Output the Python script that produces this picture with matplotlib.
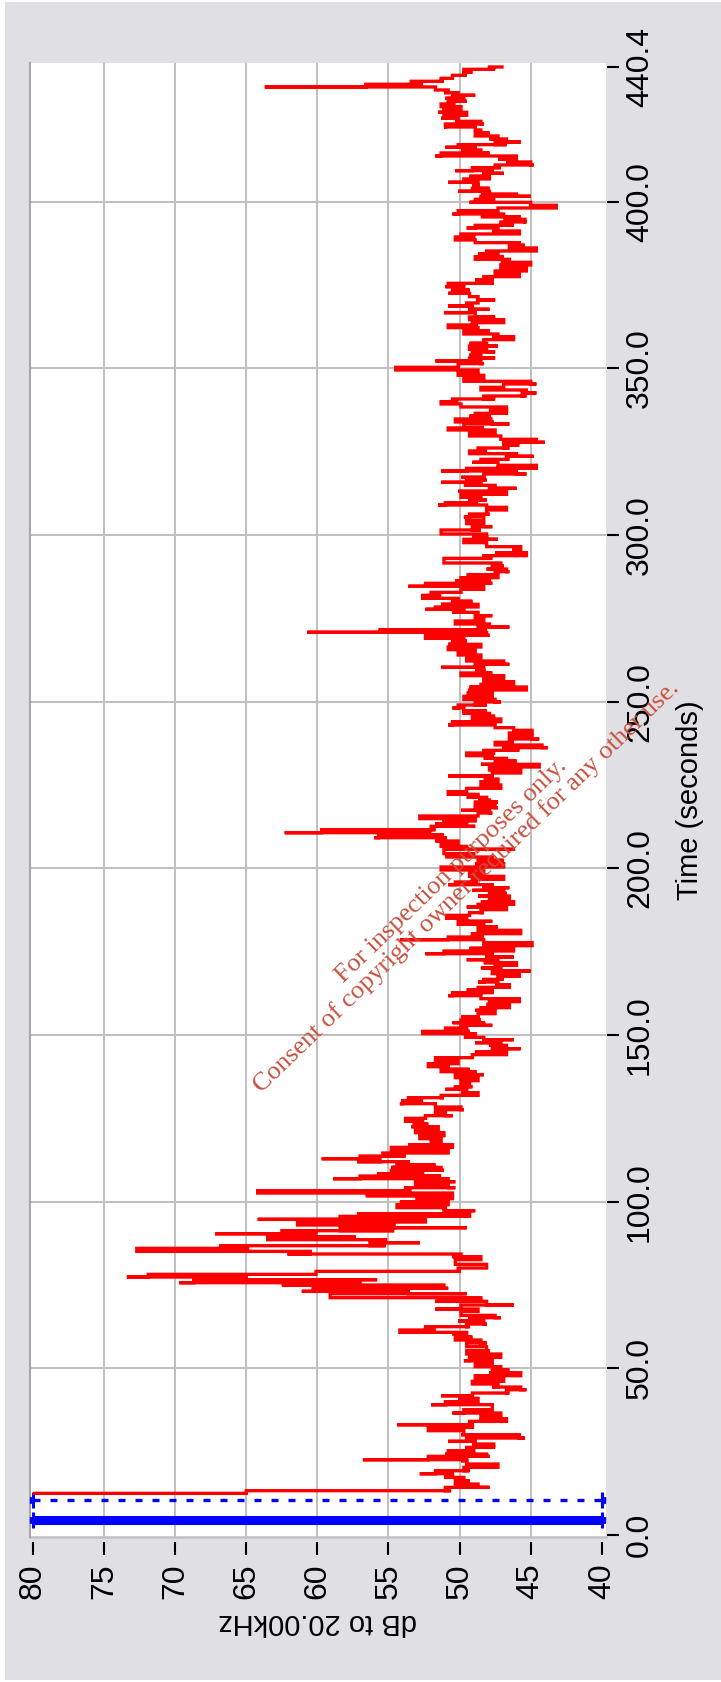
import matplotlib
matplotlib.use('Agg')
import matplotlib.pyplot as plt
from matplotlib.patches import Rectangle
from matplotlib import font_manager

# dB axis ticks and time axis ticks
db_ticks = [80, 75, 70, 65, 60, 55, 50, 45, 40]
time_ticks = [0, 50, 100, 150, 200, 250, 300, 350, 400, 440.4]
time_labels = ['0.0', '50.0', '100.0', '150.0', '200.0', '250.0', '300.0', '350.0', '400.0', '440.4']

# blue markers (cursor lines) at these times
cursor_solid_t = 4.5
cursor_dash_t = 10.5

# level trace, read per bar: time (s), upper and lower dB of each jump
bar_t = [12.5, 13.3, 14.3, 15.3, 16.3, 17.3, 18.4, 19.3, 20.3, 21.3, 22.3, 22.6, 23.6, 24.3, 25.3, 26.3,
         27.3, 28.1, 29.1, 30.1, 31.3, 32.3, 33.1, 34.1, 34.9, 35.8, 36.6, 37.6, 39.1, 40.0, 41.0, 41.8,
         42.6, 43.6, 44.4, 45.3, 46.1, 46.9, 47.8, 48.7, 49.5, 50.5, 51.4, 52.3, 53.3, 54.3, 55.3, 56.5,
         57.6, 58.5, 59.4, 60.3, 60.8, 61.5, 62.5, 63.3, 64.2, 65.2, 65.9, 67.1, 67.8, 69.0, 70.1, 71.2,
         72.4, 73.1, 74.0, 75.0, 75.7, 76.6, 77.4, 78.2, 79.1, 80.1, 81.2, 82.6, 83.5, 84.3, 85.1, 86.0,
         86.8, 87.7, 88.6, 89.5, 90.4, 91.3, 92.2, 93.0, 93.9, 94.7, 95.6, 96.4, 97.3, 98.2, 99.1, 100.0,
         100.9, 101.8, 102.6, 103.3, 104.2, 105.1, 106.0, 106.9, 107.7, 108.4, 109.4, 110.3, 111.1, 112.0,
         112.9, 113.7, 114.6, 115.5, 116.3, 117.1, 118.0, 118.9, 119.8, 120.7, 121.5, 122.5, 123.3, 124.1,
         125.0, 125.8, 126.7, 127.6, 128.4, 129.4, 130.3, 131.2, 131.9, 132.7, 133.7, 134.5, 135.4, 136.3,
         137.2, 138.1, 139.0, 139.7, 140.5, 141.4, 142.3, 143.2, 144.1, 145.0,
         145.9, 146.9, 147.7, 148.6, 149.3, 150.4, 151.1, 152.0, 152.9, 153.7, 154.5, 155.4, 156.4, 157.4,
         158.2, 159.2, 160.0, 160.9, 161.8, 162.7, 163.5, 164.3, 165.1, 165.9, 166.7, 167.6, 168.4, 169.2,
         170.1, 170.9, 171.7, 172.6, 173.4, 174.4, 175.2, 176.0, 176.8, 177.7, 178.6, 179.4, 180.4, 181.4,
         182.4, 183.2, 184.1, 185.0, 185.9, 186.7, 187.6, 188.4, 189.2, 190.0, 190.9, 191.7, 192.5, 193.4,
         194.2, 195.1, 195.9, 196.7, 197.6, 198.5, 199.5, 200.4, 201.4, 202.4, 203.4, 204.4, 205.7, 206.6,
         207.4, 208.2, 209.2, 210.0, 210.7, 211.6, 212.6, 213.4, 214.2, 214.9, 215.7, 216.6, 217.4, 218.2,
         219.0, 219.9, 220.5, 221.3, 222.2, 223.0, 224.0, 225.0, 226.0, 226.8, 227.7, 228.6, 229.5, 230.4,
         231.2, 232.2, 233.0, 233.8, 234.6, 235.4, 236.2, 237.0, 237.8, 238.8, 239.7, 240.6, 241.4, 242.2,
         243.0, 244.0, 244.8, 245.6, 246.5, 247.3, 248.1, 249.0, 249.9, 250.7, 251.6, 252.6, 253.5, 254.4,
         255.2, 256.0, 257.0, 257.8, 258.6, 259.5, 260.3, 261.2, 262.2, 263.2, 264.0, 264.8, 265.6, 266.4,
         267.2, 268.2, 269.0, 269.9, 270.8, 271.6, 272.4, 273.3, 274.2, 275.0, 275.8, 276.8, 277.7, 278.4,
         279.2, 280.1, 281.0, 281.9, 282.8, 283.7, 284.6, 285.5, 286.3, 287.2, 288.1, 289.0, 289.8, 290.7,
         291.6, 293.0, 293.8, 294.7, 295.7, 296.5, 297.7, 298.7, 299.5, 300.3, 301.5, 302.5, 303.4, 304.3,
         305.4, 306.3, 307.5, 308.3, 309.0, 309.7, 310.5, 311.3, 312.2, 313.1, 314.0, 314.9, 315.8, 316.5,
         317.3, 318.3, 319.2, 320.0, 320.9, 321.8, 322.7, 323.6, 324.4, 325.2, 326.1, 327.0, 327.8, 328.7,
         329.7, 330.5, 331.5, 332.1, 333.3, 333.9, 334.8, 335.7, 336.5, 337.5, 338.4, 339.3, 340.0, 340.8,
         341.7, 342.6, 343.5, 344.3, 345.3, 346.1, 347.0, 347.9, 348.7, 349.5, 350.3, 351.4, 352.2, 353.1,
         354.0, 354.9, 355.7, 356.7, 357.5, 358.6, 359.5, 360.3, 361.3, 362.2, 363.0, 363.7, 364.6, 365.4,
         366.7, 367.7, 368.7, 369.6, 370.5, 371.5, 372.5, 373.5, 374.5, 375.5, 376.5, 377.5, 378.4, 379.2,
         380.1, 381.0, 381.8, 382.7, 383.5, 384.3, 385.2, 386.1, 386.9, 387.7, 388.5, 389.4, 390.3, 391.2,
         392.1, 392.9, 393.9, 394.7, 395.5, 396.3, 397.3, 398.1, 398.9, 399.8, 400.7, 401.6, 402.3, 403.1,
         404.0, 404.9, 405.8, 406.8, 407.6, 408.5, 409.3, 410.2, 411.0, 411.9, 412.8, 413.7, 414.6, 415.5,
         416.3, 417.1, 417.9, 418.8, 419.7, 420.6, 421.5, 422.4, 423.3, 424.1, 425.0, 425.9, 426.8, 427.7,
         428.5, 429.3, 430.1, 431.0, 431.9, 432.7, 433.5, 434.4, 435.2, 436.1, 437.0, 437.9, 438.8, 439.7,
         440.4]
bar_hi = [80.0, 65.0, 51.0, 50.1, 50.3, 51.1, 52.8, 51.7, 49.7, 49.1, 49.9, 56.8, 52.2, 51.0, 50.8, 49.5,
          49.1, 50.8, 49.5, 49.9, 52.2, 52.2, 54.4, 49.3, 48.3, 48.5, 50.5, 49.7, 52.0, 51.0, 50.1, 51.3,
          49.1, 46.7, 47.7, 48.3, 49.1, 48.7, 48.9, 47.9, 47.7, 48.9, 48.9, 49.7, 49.3, 49.1, 49.5, 49.5,
          49.5, 50.1, 50.3, 50.5, 53.0, 54.2, 52.4, 49.5, 50.1, 49.3, 49.5, 49.9, 51.7, 49.9, 51.7, 56.3,
          59.1, 61.1, 60.3, 62.5, 69.7, 68.7, 73.4, 71.9, 60.1, 50.1, 49.7, 50.3, 50.5, 62.1, 71.3, 72.7,
          66.8, 56.3, 63.5, 63.5, 67.2, 62.5, 58.4, 58.4, 61.4, 64.2, 58.4, 57.2, 51.1, 53.4, 54.4, 54.2,
          53.0, 56.6, 63.7, 64.2, 53.8, 52.8, 53.1, 58.9, 57.0, 55.8, 54.8, 54.8, 54.4, 57.2,
          59.7, 57.0, 55.4, 54.8, 54.8, 53.6, 52.0, 52.2, 52.8, 53.0, 53.1, 53.4, 53.2, 53.8,
          53.8, 52.4, 51.5, 51.7, 51.5, 54.2, 54.0, 53.6, 51.3, 49.9, 51.0, 50.3, 49.9, 49.9,
          50.1, 50.3, 51.1, 51.3, 51.7, 52.2, 51.0, 51.7, 49.1, 48.9,
          47.7, 47.9, 48.9, 47.7, 49.7, 51.1, 52.6, 51.1, 49.9, 50.5, 49.9, 49.9, 48.7, 48.9,
          48.5, 48.1, 47.9, 48.3, 50.8, 50.5, 49.5, 48.7, 47.5, 48.7, 48.3, 47.3, 47.3, 47.7,
          48.5, 47.5, 48.3, 49.5, 48.1, 52.4, 51.1, 49.3, 48.3, 48.1, 54.2, 50.8, 49.1, 48.1,
          48.7, 50.1, 50.1, 51.0, 50.9, 49.3, 48.5, 49.5, 48.7, 48.5, 47.9, 48.7, 47.9, 49.1,
          48.3, 50.8, 50.3, 49.1, 49.3, 49.3, 49.9, 51.3, 48.9, 48.7, 50.3, 50.9, 51.1, 50.9,
          51.3, 51.7, 56.0, 55.7, 62.3, 59.7, 52.0, 51.7, 51.1, 52.0, 52.8, 48.7, 49.9, 48.9,
          48.7, 48.9, 48.7, 49.5, 50.8, 50.8, 49.5, 48.5, 48.5, 48.3, 50.8, 47.7, 47.9, 47.9,
          48.5, 47.5, 48.3, 49.5, 49.5, 48.3, 46.9, 47.3, 47.5, 46.5, 46.2, 46.5, 46.2, 47.5,
          50.8, 50.5, 49.1, 49.1, 49.7, 49.7, 50.5, 50.1, 48.9, 48.9, 49.7, 49.5, 49.3, 49.3,
          48.5, 47.7, 48.3, 49.9, 49.9, 48.9, 51.3, 48.9, 49.3, 49.5, 49.7, 50.1, 50.5, 50.8,
          50.8, 50.5, 51.1, 52.4, 60.7, 55.6, 48.7, 50.3, 50.3, 48.9, 48.9, 50.5, 52.4, 51.7,
          51.3, 50.5, 52.2, 52.6, 52.0, 49.9, 53.6, 52.4, 50.3, 49.9, 49.5, 47.5, 48.1, 47.7,
          50.8, 51.1, 48.3, 47.5, 46.2, 48.1, 48.9, 49.7, 49.1, 50.5, 51.3, 49.1, 49.5, 49.5,
          49.7, 49.3, 48.1, 48.1, 51.5, 51.0, 49.3, 49.7, 49.9, 50.1, 47.9, 49.7, 51.3, 49.5,
          49.9, 48.3, 51.3, 49.5, 47.1, 49.1, 48.5, 46.7, 48.7, 49.3, 48.7, 46.9, 46.9, 47.1,
          49.1, 49.3, 49.7, 50.8, 49.7, 49.1, 50.3, 49.3, 48.9, 47.9, 49.9, 51.1, 51.3, 50.5,
          48.3, 45.6, 48.1, 48.5, 46.9, 49.1, 49.7, 49.7, 50.1, 53.1, 54.5, 50.1, 51.7, 49.3,
          49.3, 49.1, 49.3, 49.3, 49.3, 48.3, 47.7, 49.1, 49.7, 50.1, 50.8, 49.1, 48.5, 49.3,
          51.1, 49.3, 50.8, 49.5, 48.7, 49.3, 50.8, 50.5, 51.0, 50.8, 48.9, 48.3, 46.9, 47.5,
          47.1, 47.1, 47.1, 47.9, 48.9, 48.7, 48.1, 46.0, 46.5, 48.9, 49.9, 50.3, 49.9, 47.7,
          49.5, 48.9, 47.1, 46.9, 48.5, 50.5, 50.1, 47.3, 45.0, 49.3, 48.9, 48.5, 48.5, 50.1,
          49.1, 49.1, 50.8, 49.7, 49.3, 48.3, 50.3, 49.1, 47.5, 46.7, 47.3, 51.7, 51.3, 49.9,
          51.0, 50.1, 47.5, 47.9, 48.9, 48.9, 48.9, 51.1, 51.0, 50.3, 51.3, 51.1, 51.5, 51.1,
          51.0, 51.3, 50.8, 51.0, 50.5, 51.1, 51.7, 63.7, 56.6, 53.4, 51.3, 50.5, 49.7, 49.7,
          47.9]
bar_lo = [65.0, 50.6, 47.9, 48.7, 49.3, 49.7, 50.5, 49.3, 47.3, 47.3, 49.5, 49.5, 47.9, 48.1, 48.9, 47.5,
          47.6, 48.9, 45.4, 45.8, 49.7, 50.1, 49.1, 47.3, 46.7, 47.5, 47.1, 48.0, 47.7, 49.3, 48.7, 49.1,
          46.5, 45.3, 45.7, 47.3, 47.3, 46.9, 46.2, 45.7, 46.5, 47.1, 47.7, 47.7, 47.5, 47.1, 47.9, 48.1,
          48.1, 48.5, 49.1, 49.7, 49.5, 51.7, 49.3, 48.1, 48.3, 47.1, 47.5, 48.7, 48.7, 46.2, 48.1, 48.5,
          49.5, 53.6, 50.8, 51.1, 57.0, 55.8, 65.0, 60.1, 49.9, 48.5, 48.1, 49.1, 48.5, 49.9, 60.5, 64.8,
          55.2, 52.8, 55.2, 57.3, 60.1, 54.6, 49.5, 54.6, 54.6, 52.4, 52.4, 49.3, 48.9, 51.0, 50.8, 50.8,
          50.5, 50.5, 50.5, 53.4, 50.3, 50.8, 50.3, 50.8, 51.3, 52.6, 51.1, 51.3, 51.7, 53.6,
          55.6, 53.8, 51.7, 50.8, 50.8, 50.5, 51.5, 51.3, 51.1, 51.1, 51.7, 51.5, 52.2, 52.6,
          52.4, 50.5, 51.0, 49.7, 49.9, 51.7, 52.6, 51.1, 49.1, 48.7, 49.5, 49.1, 49.3, 48.9,
          48.7, 48.3, 48.9, 49.3, 50.8, 50.1, 50.1, 49.3, 47.5, 46.7,
          45.7, 46.7, 47.1, 46.2, 48.3, 48.9, 49.3, 49.5, 47.7, 48.3, 48.5, 48.7, 47.5, 47.5,
          46.6, 46.5, 46.5, 45.8, 48.5, 48.5, 47.7, 46.7, 46.5, 47.3, 46.9, 46.2, 45.8, 45.0,
          47.1, 46.0, 46.0, 47.3, 46.2, 47.7, 47.1, 46.2, 46.0, 44.9, 48.3, 48.3, 46.7, 45.7,
          47.3, 48.3, 47.7, 49.5, 49.7, 48.3, 46.9, 46.7, 46.2, 46.2, 46.5, 46.5, 46.7, 46.9,
          46.5, 47.7, 48.7, 47.1, 46.9, 48.3, 48.3, 47.7, 46.9, 46.9, 47.7, 48.9, 46.1, 49.5,
          50.1, 50.1, 51.0, 51.1, 52.1, 51.7, 48.9, 49.5, 49.9, 48.9, 50.1, 47.7, 47.9, 47.3,
          47.5, 47.3, 47.9, 48.1, 48.7, 49.5, 47.7, 47.1, 47.3, 47.3, 47.7, 46.5, 45.7, 45.3,
          44.4, 46.0, 46.7, 47.7, 47.5, 45.8, 43.8, 44.2, 46.2, 44.4, 44.9, 44.9, 44.9, 46.2,
          47.5, 47.5, 47.1, 47.5, 47.9, 48.1, 49.7, 48.1, 47.1, 47.5, 47.7, 47.7, 45.4, 45.3,
          46.2, 46.2, 46.9, 46.9, 47.7, 48.3, 48.3, 46.5, 46.9, 48.5, 48.5, 48.9, 48.9, 48.9,
          48.5, 49.5, 49.7, 47.9, 48.1, 48.1, 46.5, 47.9, 48.3, 48.3, 47.7, 48.7, 49.7, 48.9,
          48.7, 49.1, 50.1, 51.3, 49.9, 48.7, 48.3, 47.7, 47.9, 48.3, 47.3, 46.5, 46.7, 46.9,
          47.1, 47.7, 45.4, 45.3, 45.7, 45.7, 48.1, 47.3, 48.1, 48.1, 48.5, 47.7, 48.3, 48.5,
          48.3, 47.9, 46.7, 46.7, 48.1, 48.7, 48.1, 48.5, 47.9, 46.7, 46.0, 47.5, 48.5, 48.1,
          48.3, 45.3, 46.0, 45.3, 44.6, 47.3, 46.5, 44.8, 46.0, 48.1, 46.5, 45.8, 44.0, 44.6,
          47.1, 47.5, 47.5, 48.3, 46.5, 47.7, 47.7, 47.9, 47.3, 46.7, 46.7, 49.9, 50.1, 47.5,
          45.3, 44.6, 45.3, 47.3, 44.6, 45.0, 48.3, 48.3, 48.7, 48.7, 50.0, 48.3, 48.5, 47.5,
          48.5, 47.5, 48.1, 47.3, 48.1, 46.2, 46.2, 47.3, 47.9, 48.7, 48.7, 47.5, 46.9, 47.5,
          48.9, 47.9, 49.1, 48.7, 47.5, 48.7, 49.3, 49.3, 49.7, 48.1, 47.7, 46.2, 45.8, 45.3,
          45.3, 45.0, 45.0, 46.5, 46.9, 47.3, 44.8, 44.6, 45.4, 45.8, 48.9, 48.9, 46.7, 45.8,
          47.3, 46.2, 45.3, 45.4, 45.8, 46.9, 48.5, 43.4, 43.2, 45.0, 47.5, 45.0, 46.0, 47.9,
          47.9, 48.7, 48.7, 48.1, 47.9, 46.9, 47.7, 47.1, 44.8, 45.0, 46.2, 46.0, 47.9, 48.5,
          48.9, 46.7, 45.7, 46.7, 47.3, 47.9, 48.5, 48.9, 48.3, 48.5, 50.1, 49.5, 49.5, 49.9,
          49.9, 50.3, 49.5, 49.7, 48.9, 50.1, 50.8, 51.7, 52.6, 51.1, 50.5, 49.5, 49.1, 47.5,
          46.9]

installed = {f.name for f in font_manager.fontManager.ttflist}
if 'Liberation Sans Narrow' in installed:
    lab_font, tick_size, axlab_size = 'Liberation Sans Narrow', 26, 26
else:
    lab_font, tick_size, axlab_size = 'Liberation Sans', 23, 21

W, H = 721, 1682
fig = plt.figure(figsize=(W / 100, H / 100), dpi=100, facecolor='white')
fig.patches.append(Rectangle((5 / W, 2 / H), (W - 5) / W, (H - 4) / H, transform=fig.transFigure,
                             facecolor='#e0e0e4', edgecolor='none', zorder=-10))

ax = fig.add_axes([29.5 / W, (H - 1536.7) / H, (606 - 29.5) / W, (1536.7 - 63.3) / H])
ax.set_facecolor('white')
ax.set_xlim(80.246, 39.704)
ax.set_ylim(-0.5, 441.5)

# grid
for d in db_ticks[1:-1]:
    ax.axvline(d, color='#c0c0c0', lw=1.45, zorder=1)
for t in time_ticks[1:-1]:
    ax.axhline(t, color='#c0c0c0', lw=1.45, zorder=1)
ax.plot([0, 1], [0, 0], transform=ax.transAxes, color='#c0c0c0', lw=1.8, clip_on=False, zorder=1)

# blue cursors
ax.plot([db_ticks[0], db_ticks[-1]], [cursor_solid_t] * 2, color='#0000ff', lw=6.5,
        solid_capstyle='butt', zorder=3)
ax.plot([db_ticks[0], db_ticks[-1]], [cursor_dash_t] * 2, color='#0000ff', lw=2.4,
        linestyle=(0, (2.1, 3.0)), dash_capstyle='butt', zorder=3)
for ct in (cursor_solid_t, cursor_dash_t):
    ax.plot([db_ticks[0], db_ticks[-1]], [ct, ct], ls='none', marker='|', ms=11, mew=2.2,
            color='#0000ff', zorder=3, clip_on=False)
    ax.plot([db_ticks[0]], [ct], ls='none', marker='>', ms=5, color='#0000ff', zorder=3, clip_on=False)
    ax.plot([db_ticks[-1]], [ct], ls='none', marker='<', ms=5, color='#0000ff', zorder=3, clip_on=False)

# red level trace: each bar is a jump drawn horizontally at its time
xs, ys = [], []
prev = None
for t, a, b in zip(bar_t, bar_hi, bar_lo):
    first, second = a, b
    if prev is not None and abs(b - prev) < abs(a - prev):
        first, second = b, a
    xs += [first, second]
    ys += [t, t]
    prev = second
ax.plot(xs, ys, drawstyle='steps-post', color='#ff0000', lw=2.4, zorder=4,
        solid_joinstyle='miter', solid_capstyle='butt')

# spines
for s in ('top', 'right', 'bottom'):
    ax.spines[s].set_visible(False)
ax.spines['bottom'].set_position(('outward', 3.6))
ax.spines['right'].set_position(('outward', 0.7))
ax.spines['left'].set_color('#a8a8a8')
ax.spines['left'].set_linewidth(1.5)

# ticks
ax.set_xticks(db_ticks)
ax.set_xticklabels([str(d) for d in db_ticks])
ax.yaxis.tick_right()
ax.yaxis.set_label_position('right')
ax.set_yticks(time_ticks)
ax.set_yticklabels(time_labels)
ax.tick_params(axis='x', direction='out', length=9.4, width=1.5, pad=6.5, labelrotation=90,
               labelsize=tick_size, colors='black')
ax.tick_params(axis='y', direction='out', length=8.6, width=1.5, pad=4.3, labelrotation=90,
               labelsize=tick_size, colors='black')
for lab in ax.get_xticklabels() + ax.get_yticklabels():
    lab.set_family(lab_font)
for lab in ax.get_yticklabels():
    lab.set_va('center')

ax.set_xlabel('dB to 20.00kHz', rotation=180, fontsize=axlab_size, family=lab_font, labelpad=6)
ax.set_ylabel('Time (seconds)', rotation=90, fontsize=axlab_size, family=lab_font, labelpad=15)

# watermark
fig.text(459 / W, 1 - 879 / H,
         'For inspection purposes only.\nConsent of copyright owner required for any other use.',
         rotation=44, rotation_mode='anchor', ha='center', va='center', multialignment='center',
         family='Liberation Serif', fontsize=19, color='#c9503e', linespacing=1.0, zorder=10)

fig.savefig('out.png', dpi=100, facecolor=fig.get_facecolor())
